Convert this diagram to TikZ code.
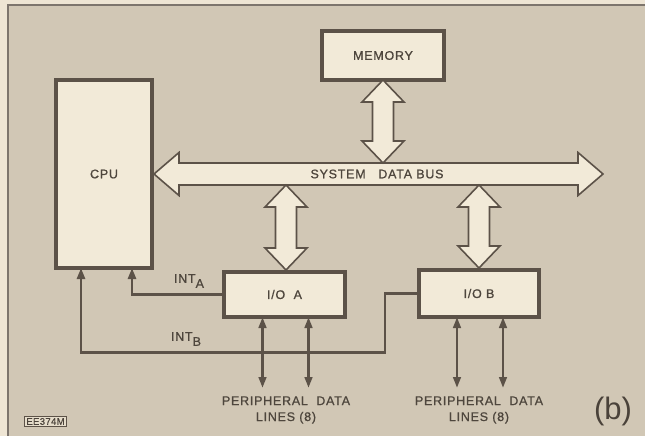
\documentclass[tikz,border=0pt]{standalone}
\usepackage{fontspec}
\usetikzlibrary{arrows.meta,calc,positioning}
\newfontfamily\lblfont[LetterSpace=6,FakeBold=0.9]{Liberation Sans}
\newfontfamily\reffont[LetterSpace=4,FakeBold=0.5]{Liberation Sans}
\newfontfamily\tagfont{Liberation Sans}
\definecolor{paper}{RGB}{238,229,212}
\definecolor{tan}{RGB}{209,199,181}
\definecolor{cream}{RGB}{242,234,216}
\definecolor{ink}{RGB}{92,82,72}
\tikzset{
  lbl/.style={font=\lblfont\fontsize{12.5}{16}\selectfont, text=ink!85!black, inner sep=0pt},
  block/.style={draw=ink, fill=cream, line width=3.4pt, minimum width=#1, outer sep=0pt},
  busline/.style={draw=ink, fill=cream, line width=1.6pt, line join=miter},
  intline/.style={draw=ink, line width=2.6pt, -{Triangle[length=11pt,width=8pt]}},
  periph/.style={draw=ink, line width=2.8pt, {Triangle[length=11pt,width=7.5pt]}-{Triangle[length=11pt,width=7.5pt]}}
}
% vertical double arrow between two points
\newcommand\vbus[2]{%
  \path[busline] let \p1=#1, \p2=#2 in
    (\x1,\y1) -- (\x1+21pt,\y1-22pt) -- (\x1+10.5pt,\y1-22pt) -- (\x1+10.5pt,\y2+22pt)
    -- (\x1+21pt,\y2+22pt) -- (\x1,\y2) -- (\x1-21pt,\y2+22pt) -- (\x1-10.5pt,\y2+22pt)
    -- (\x1-10.5pt,\y1-22pt) -- (\x1-21pt,\y1-22pt) -- cycle;}

\begin{document}
\begin{tikzpicture}[x=1pt,y=-1pt]
  \useasboundingbox (0,0) rectangle (645,436);
  \fill[paper] (0,0) rectangle (645,436);
  \fill[tan] (8,5) rectangle (645,436);
  \draw[ink!80, line width=1.2pt] (645,5) -- (8,5) -- (8,436);

  % blocks
  \node[block=122pt, minimum height=49pt] (mem) at (383,55.5) {};
  \node[lbl] at (mem) {MEMORY};
  \node[block=96pt, minimum height=188pt] (cpu) at (104,174) {};
  \node[lbl] at (cpu) {CPU};
  \node[block=121pt, minimum height=45pt] (ioa) at (284.5,294.5) {};
  \node[lbl] at (ioa) {I/O\ \ A};
  \node[block=120pt, minimum height=47pt] (iob) at (479,293.5) {};
  \node[lbl] at (iob) {I/O B};

  % system data bus
  \coordinate (busL) at (154,174);
  \coordinate (busR) at (603,174);
  \coordinate (busN) at (0,163);
  \coordinate (busS) at (0,185);
  \path[busline] (busL) -- ++(25,-21.5) -- ++(0,10.5) -| ($(busR)+(-25,-21.5)$)
    -- (busR) -- ++(-25,21.5) -- ++(0,-10.5) -| ($(busL)+(25,21.5)$) -- cycle;
  \node[lbl] (bus) at (377,174) {SYSTEM\ \ \ DATA\ BUS};

  \vbus{(mem.south)}{(mem.south |- busN)}
  \vbus{([xshift=1.5pt]ioa.north |- busS)}{([xshift=1.5pt,yshift=2pt]ioa.north)}
  \vbus{(iob.north |- busS)}{([yshift=2pt]iob.north)}

  % interrupt lines
  \draw[intline] (ioa.west) -| ([xshift=28pt]cpu.south);
  \draw[intline] (iob.west) -- ++(-34,0) -- ++(0,59) -| ([xshift=-23pt]cpu.south);
  \node[lbl] (inta) at (189,281) {INT\raisebox{-5pt}{A}};
  \node[lbl] (intb) at (186,339) {INT\raisebox{-5pt}{B}};

  % peripheral data lines
  \foreach \dx in {-22,24} {
    \draw[periph] ([xshift=\dx pt]ioa.south) -- ++(0,71);
    \draw[periph] ([xshift=\dx pt]iob.south) -- ++(0,71);
  }
  \node[lbl, align=center] (pera) at (286,410) {PERIPHERAL\ \ DATA\\LINES (8)};
  \node[lbl, align=center] (perb) at (479,410) {PERIPHERAL\ \ DATA\\LINES (8)};

  \node[font=\tagfont\fontsize{31}{31}\selectfont, text=ink!80!black] (tag) at (613,411) {(b)};
  \node[draw=ink, line width=1pt, fill=cream!60!tan, inner sep=2pt,
    font=\reffont\fontsize{9.5}{9.5}\selectfont, text=ink!80!black] (ref) at (45.5,421.5) {EE374M};
\end{tikzpicture}
\end{document}
